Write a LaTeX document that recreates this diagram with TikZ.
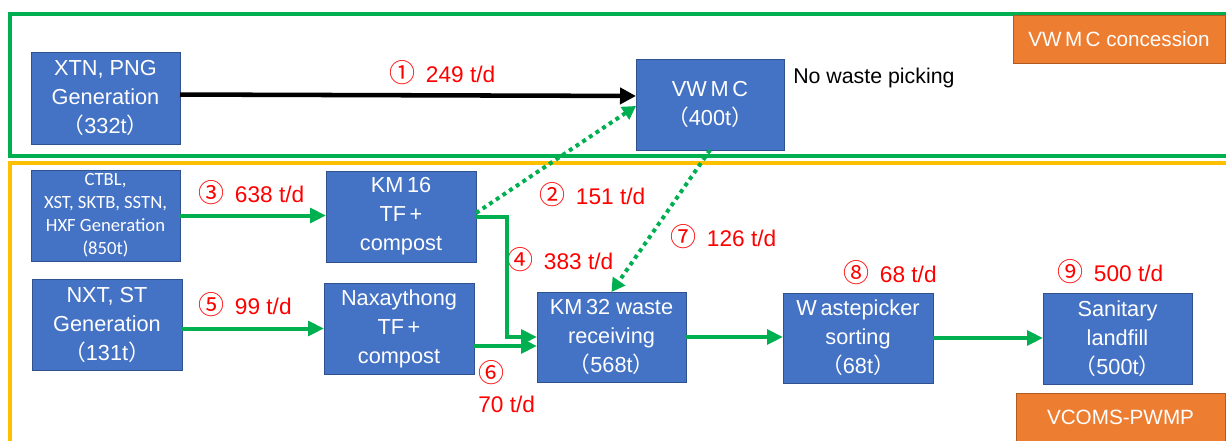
\documentclass[tikz,border=0pt]{standalone}
\usepackage{fontspec}
\setmainfont{Liberation Sans}
\newfontfamily\cj{Noto Sans CJK JP}
\newfontfamily\carl{Carlito}
\usetikzlibrary{arrows.meta}
\definecolor{vgreen}{HTML}{00B050}
\definecolor{vyellow}{HTML}{FFC000}
\definecolor{vblue}{HTML}{4472C4}
\definecolor{vblueb}{HTML}{2F528F}
\definecolor{vorange}{HTML}{ED7D31}
\definecolor{vorangeb}{HTML}{AE5A21}
\definecolor{vred}{HTML}{FF0000}
\newcommand\circd[1]{{\cj\fontsize{19.5}{22.5}\selectfont #1}}
\newcommand\cnum[1]{\circd{#1}\hspace{8pt}}
\newcommand\fwl{{\cj （}}
\newcommand\fwr{{\cj ）}}
\tikzset{
  box/.style={draw=vblueb, line width=0.75pt, fill=vblue, text=white, inner sep=0pt, outer sep=0pt,
    align=center, font=\fontsize{16.3}{21.75}\selectfont},
  smallbox/.style={box, font=\carl\fontsize{14}{17.25}\selectfont},
  tagbox/.style={draw=vorangeb, line width=0.75pt, fill=vorange, text=white, inner sep=0pt, outer sep=0pt,
    font=\fontsize{15.5}{18}\selectfont},
  lbl/.style={text=vred, anchor=west, inner sep=0pt, font=\fontsize{17}{22.5}\selectfont},
  garrow/.style={draw=vgreen, line width=3pt, -{Triangle[length=12pt,width=11pt]}},
  barrow/.style={draw=black, line width=3.4pt, -{Triangle[length=12pt,width=12pt]}},
  dotarrow/.style={draw=vgreen, line width=3pt, dash pattern=on 3pt off 3pt, -{Triangle[length=10pt,width=11pt]}},
  frame/.style={line width=3pt}
}
\begin{document}
\begin{tikzpicture}[x=0.75pt,y=-0.75pt]
\useasboundingbox (0,0) rectangle (1226,440);
\clip (0,0) rectangle (1226,440);
% frames
\draw[frame, draw=vgreen] (9.5,13.5) rectangle (1240,156);
\draw[frame, draw=vyellow] (9.5,163) rectangle (1240,470);
% boxes
\node[box, minimum width=111.75pt, minimum height=69pt] (xtn) at (105.5,98) {XTN, PNG\\Generation\\\fwl 332t\fwr};
\node[box, minimum width=111pt, minimum height=68.25pt] (vwmc) at (710,104.5) {VW\,M\,C\\\fwl 400t\fwr};
\node[tagbox, minimum width=159pt, minimum height=36pt] (conc) at (1119,39) {VW\,M\,C concession};
\node[smallbox, minimum width=111.75pt, minimum height=68.25pt] (ctbl) at (105.5,215.5) {CTBL,\\XST, SKTB, SSTN,\\ HXF Generation\\(850t)};
\node[box, minimum width=112.5pt, minimum height=68.25pt] (km16) at (401,216.5) {KM\,16\\TF\,+\\compost};
\node[box, minimum width=112.5pt, minimum height=68.25pt] (nxt) at (107,324.5) {NXT, ST\\Generation\\\fwl 131t\fwr};
\node[box, minimum width=112.5pt, minimum height=68.25pt] (nax) at (399,328.5) {Naxaythong\\TF\,+\\compost};
\node[box, minimum width=111.75pt, minimum height=67.5pt] (km32) at (611.5,337) {KM\,32 waste\\receiving\\\fwl 568t\fwr};
\node[box, minimum width=112.5pt, minimum height=67.5pt] (wp) at (858,338) {W\,astepicker\\sorting\\\fwl 68t\fwr};
\node[box, minimum width=111.75pt, minimum height=68.25pt] (sl) at (1117.5,338.5) {Sanitary\\landfill\\\fwl 500t\fwr};
\node[tagbox, minimum width=156.75pt, minimum height=36pt] (vcoms) at (1120.5,417) {VCOMS-PWMP};
% text
\node[anchor=west, inner sep=0pt, font=\fontsize{16}{19}\selectfont] (nwp) at (793,78) {No waste picking};
% labels
\node[lbl] (l1) at (389,73) {\cnum{①}249 t/d};
\node[lbl] (l2) at (539,195) {\cnum{②}151 t/d};
\node[lbl] (l3) at (198,193) {\cnum{③}638 t/d};
\node[lbl] (l4) at (507,260) {\cnum{④}383 t/d};
\node[lbl] (l5) at (198,305) {\cnum{⑤}99 t/d};
\node[lbl, align=left] (l6) at (478,387) {\circd{⑥}\\70 t/d};
\node[lbl] (l7) at (670,237) {\cnum{⑦}126 t/d};
\node[lbl] (l8) at (843,273) {\cnum{⑧}68 t/d};
\node[lbl] (l9) at (1057,272) {\cnum{⑨}500 t/d};
% connectors
\draw[barrow] ([yshift=2.6pt]xtn.east) -- ([yshift=6.4pt]vwmc.west);
\draw[garrow] (ctbl.east) -- (ctbl.east -| km16.west);
\draw[garrow] ([yshift=-3pt]nxt.east) -- (nax.west);
\draw[garrow] (km16.east) -- ++(31,0) |- (km32.west);
\draw[garrow] ([yshift=-13.1pt]nax.east) coordinate (a6s) -- (a6s -| km32.west);
\draw[garrow] (km32.east) -- (km32.east -| wp.west);
\draw[garrow] (wp.east) -- (wp.east -| sl.west);
\draw[dotarrow] ([yshift=2.6pt]km16.east) -- ([yshift=-1.1pt]vwmc.west);
\draw[dotarrow] (vwmc.south) -- (km32.north);
\end{tikzpicture}
\end{document}
